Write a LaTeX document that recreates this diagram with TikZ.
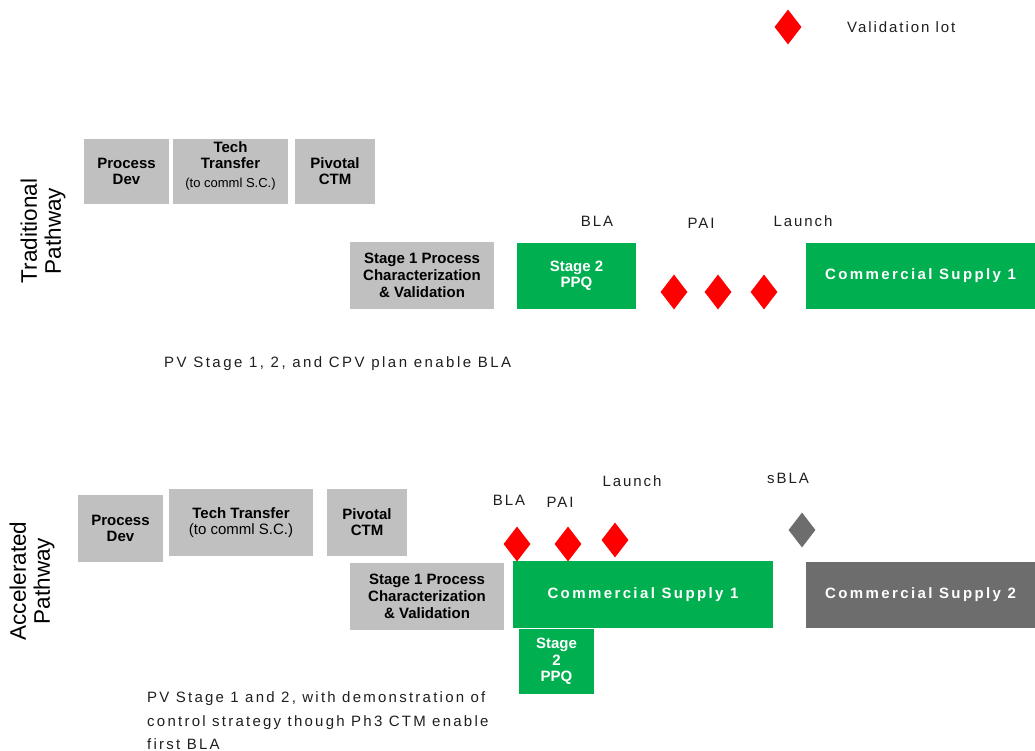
\documentclass[tikz,border=0pt]{standalone}
\usepackage{fontspec}
\setmainfont{Liberation Sans}
\newfontfamily\spaced[LetterSpace=13]{Liberation Sans}
\newfontfamily\spacednote[LetterSpace=16.5]{Liberation Sans}
\newfontfamily\spacednotetwo[LetterSpace=15]{Liberation Sans}
\newfontfamily\spacedwide[LetterSpace=16]{Liberation Sans}
\usetikzlibrary{shapes.geometric}
\definecolor{boxgray}{HTML}{C0C0C0}
\definecolor{suppgreen}{HTML}{00B050}
\definecolor{suppgray}{HTML}{6D6D6D}
\definecolor{labelink}{HTML}{1F1F1F}

\begin{document}
\begin{tikzpicture}[x=1pt, y=-1pt,
	box/.style={fill=boxgray, inner sep=0pt, align=center, font=\fontsize{15}{16}\selectfont\bfseries},
	greenbox/.style={box, fill=suppgreen, text=white},
	supply/.style={inner sep=0pt, text=white, font=\fontsize{15}{16}\selectfont\spacedwide\bfseries},
	lot/.style={diamond, fill=red, inner sep=0pt, minimum width=27pt, minimum height=35pt},
	mile/.style={inner sep=0pt, text=labelink, font=\fontsize{15}{16}\selectfont\spaced},
	note/.style={mile, anchor=base west, font=\fontsize{15}{16}\selectfont\spacednote},
	side/.style={rotate=90, align=center, inner sep=0pt, font=\fontsize{22.5}{24}\selectfont}]
	\useasboundingbox (0,0) rectangle (1035,751);

	\node[lot] (legLot) at (788,27) {};
	\node[mile, anchor=west] (legText) at (847,27) {Validation lot};

	\node[side] (trSide) at (43,231) {Traditional\\Pathway};
	\node[box, minimum width=85pt, minimum height=65pt] (trProc) at (126.5,171.5) {Process\\Dev};
	\node[box, minimum width=115pt, minimum height=65pt] (trTech) at (230.5,171.5) {};
	\node[box, fill=none, align=center] (trTechText) at ([yshift=6pt]trTech.center)
		{Tech\\Transfer\\[3pt]{\mdseries\fontsize{13}{15}\selectfont (to comml S.C.)}};
	\node[box, minimum width=80pt, minimum height=65pt] (trPiv) at (335,171.5) {Pivotal\\CTM};
	\node[box, minimum width=144pt, minimum height=67pt, font=\fontsize{15}{17}\selectfont\bfseries] (trStageOne) at (422,275.5)
		{Stage 1 Process\\Characterization\\\& Validation};
	\node[greenbox, minimum width=119pt, minimum height=66pt] (trStageTwo) at (576.5,276) {Stage 2\\PPQ};
	\node[supply, fill=suppgreen, minimum width=229pt, minimum height=66pt] (trSupply) at (920.5,276) {Commercial Supply 1};
	\node[lot] (trLotA) at (674,292) {};
	\node[lot] (trLotB) at (718,292) {};
	\node[lot] (trLotC) at (764,292) {};
	\node[mile] (trBla) at (597,221) {BLA};
	\node[mile] (trPai) at (701,223) {PAI};
	\node[mile] (trLaunch) at (803,221) {Launch};
	\node[note] (trNote) at (164,367.5) {PV Stage 1, 2, and CPV plan enable BLA};

	\node[side] (acSide) at (32,581) {Accelerated\\Pathway};
	\node[box, minimum width=85pt, minimum height=67pt] (acProc) at (120.5,528.5) {Process\\Dev};
	\node[box, minimum width=144pt, minimum height=67pt] (acTech) at (241,522.5)
		{Tech Transfer\\{\mdseries (to comml S.C.)}};
	\node[box, minimum width=80pt, minimum height=67pt] (acPiv) at (367,522.5) {Pivotal\\CTM};
	\node[box, minimum width=154pt, minimum height=67pt, font=\fontsize{15}{17}\selectfont\bfseries] (acStageOne) at (427,596.5)
		{Stage 1 Process\\Characterization\\\& Validation};
	\node[supply, fill=suppgreen, minimum width=260pt, minimum height=67pt] (acSupplyOne) at (643,594.5) {Commercial Supply 1};
	\node[greenbox, minimum width=75pt, minimum height=65pt, font=\fontsize{15}{16.5}\selectfont\bfseries] (acStageTwo) at (556.5,661.5)
		{Stage\\2\\PPQ};
	\node[supply, fill=suppgray, minimum width=229pt, minimum height=66pt] (acSupplyTwo) at (920.5,595) {Commercial Supply 2};
	\node[lot] (acLotA) at (517,544) {};
	\node[lot] (acLotB) at (568,544) {};
	\node[lot] (acLotC) at (615,540) {};
	\node[lot, fill=suppgray] (acLotS) at (802,530) {};
	\node[mile] (acBla) at (509,500) {BLA};
	\node[mile] (acPai) at (560,502) {PAI};
	\node[mile] (acLaunch) at (632,481) {Launch};
	\node[mile] (acSbla) at (788,478) {sBLA};
	\node[note, font=\fontsize{15}{16}\selectfont\spacednotetwo] (acNoteA) at (147,702.5) {PV Stage 1 and 2, with demonstration of};
	\node[note, font=\fontsize{15}{16}\selectfont\spacednotetwo] (acNoteB) at (147,726) {control strategy though Ph3 CTM enable};
	\node[note, font=\fontsize{15}{16}\selectfont\spacednotetwo] (acNoteC) at (147,749.5) {first BLA};
\end{tikzpicture}
\end{document}
